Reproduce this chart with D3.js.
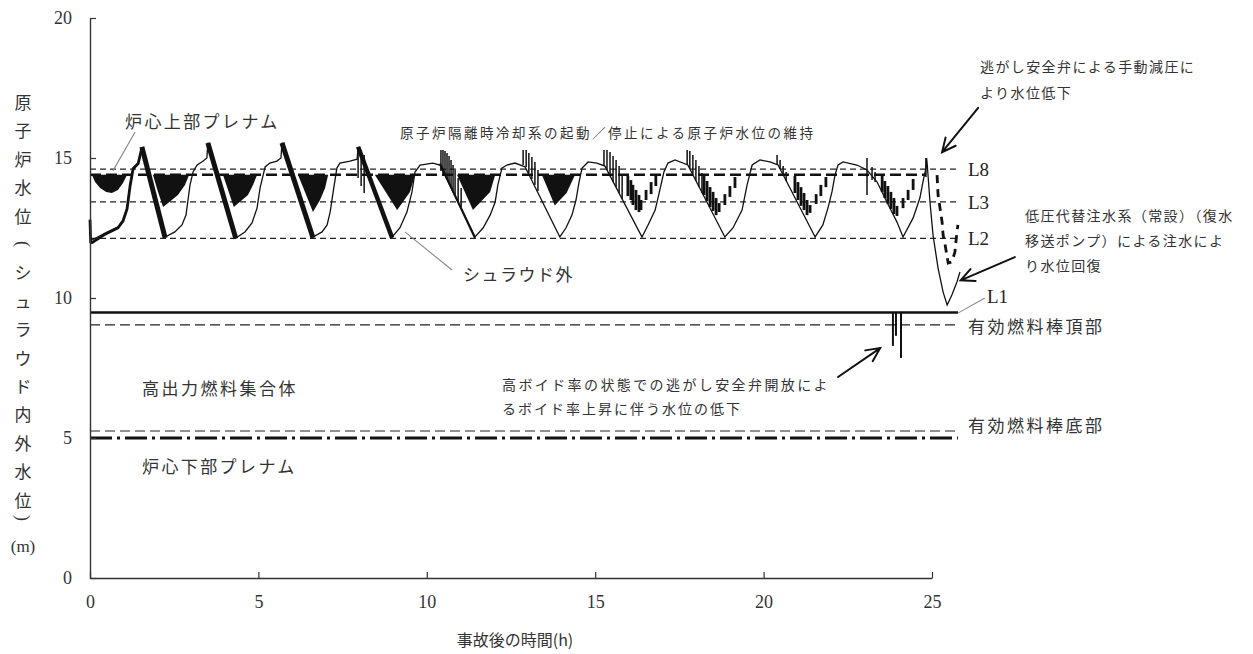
<!DOCTYPE html>
<html><head><meta charset="utf-8">
<script src="https://cdn.jsdelivr.net/npm/d3@7"></script>
<style>body{margin:0;background:#fff}svg{display:block}</style>
</head><body>
<svg id="c" width="1253" height="654"></svg>
<script>
// ---------- data ----------
const xTicks = [0, 5, 10, 15, 20, 25];
const yTicks = [0, 5, 10, 15, 20];
const levelEnd = 25.83;
const refDashedLevels = [14.6, 13.43, 12.13];          // L8, L3, L2
const refLabels = ["L8", "L3", "L2"];
const upperPlenumLevel = 14.4;                          // heavy dashed (in-shroud)
const fuelAssemblyLevel = 9.48;                         // solid
const tafLevel = 9.04, bafLevel = 5.25, lowerPlenumLevel = 5.0;

// outer-shroud water level [h, m]
const shroudOuter = [
 [0.06,12.07],[0.45,12.32],[0.83,12.54],[0.98,12.79],[1.10,13.21],[1.19,14.04],[1.28,14.64],[1.43,14.82],[1.54,15.36],
 [2.23,12.18],
 [2.52,12.36],[2.73,12.61],[2.85,12.96],[2.91,13.5],[2.97,14.04],[3.06,14.5],[3.18,14.75],[3.36,14.89],[3.47,15.0],[3.50,15.54],
 [4.33,12.14],
 [4.60,12.36],[4.81,12.68],[4.96,13.21],[5.05,13.93],[5.20,14.68],[5.34,14.82],[5.55,14.89],[5.67,15.0],[5.70,15.54],
 [6.62,12.18],
 [6.89,12.36],[7.04,12.61],[7.13,13.07],[7.22,13.79],[7.33,14.64],[7.42,14.82],[7.72,14.89],[7.93,14.96],[7.96,15.36],
 [8.97,12.18],
 [9.20,12.5],[9.41,13.07],[9.56,13.79],[9.65,14.5],[9.80,14.75],[10.18,14.82],[10.39,14.75],
 [11.43,12.18],
 [11.67,12.5],[11.88,12.96],[12.03,13.43],[12.11,14.04],[12.23,14.64],[12.38,14.75],[12.62,14.82],[12.86,14.71],[12.92,14.68],
 [13.95,12.18],
 [14.13,12.5],[14.31,12.96],[14.43,13.5],[14.52,14.14],[14.61,14.64],[14.79,14.86],[15.05,14.82],[15.29,14.71],
 [16.39,12.18],
 [16.57,12.61],[16.78,13.14],[16.92,13.86],[17.04,14.5],[17.16,14.82],[17.37,14.93],[17.75,14.75],
 [18.85,12.18],
 [19.09,12.5],[19.36,13.14],[19.51,14.04],[19.66,14.75],[19.89,14.93],[20.19,14.86],[20.43,14.75],
 [21.53,12.18],
 [21.76,12.61],[21.91,13.21],[22.03,13.79],[22.12,14.39],[22.21,14.75],[22.36,14.86],[22.77,14.75],[23.07,14.57],[23.37,14.14],[23.66,13.43],[23.96,12.71],[24.14,12.18],
 [24.44,12.86],[24.64,13.57],[24.73,14.14],[24.82,14.64],[24.84,15.0],[24.86,14.75],
 [24.94,13.43],[25.03,12.25],[25.18,11.07],[25.33,10.21],[25.45,9.75],[25.59,10.11],[25.74,10.57],[25.83,10.93]
];
// start-up portion drawn heavy
const initialRise = [[0.0,12.8],[0.02,12.0],[0.06,11.98],[0.45,12.28],[0.83,12.5],[0.98,12.75],[1.10,13.18],[1.19,14.0],[1.28,14.62],[1.43,14.8],[1.54,15.36]];
// heavy descending bands (cycles 1-5)
const descentBands = [
 [[1.54,15.4],[2.23,12.15]],
 [[3.50,15.54],[4.33,12.12]],
 [[5.70,15.54],[6.62,12.15]],
 [[7.96,15.4],[8.97,12.15]],
 [[10.39,14.8],[11.43,12.15]]
];
const bandWidths = [5, 5, 5, 4.5, 2.2];
// in-shroud level oscillation envelopes (lower edge; top = upperPlenumLevel)
const innerFill = [
 [[0.06,14.39],[0.15,14.14],[0.30,13.93],[0.48,13.79],[0.65,13.75],[0.83,13.86],[0.98,14.11],[1.10,14.39]],
 [[1.87,14.39],[2.02,13.79],[2.17,13.25],[2.32,13.39],[2.61,13.68],[2.82,14.04],[2.94,14.39]],
 [[3.95,14.39],[4.27,13.25],[4.69,13.68],[4.84,14.04],[4.96,14.39]],
 [[6.18,14.39],[6.62,13.07],[6.83,13.5],[6.98,13.93],[7.07,14.39]],
 [[8.46,14.39],[9.12,13.14],[9.50,13.79],[9.65,14.39]],
 [[10.90,14.39],[11.37,13.14],[11.88,13.79],[12.03,14.39]],
 [[13.42,14.39],[13.80,13.3],[14.15,13.75],[14.40,14.39]]
];
// sparse in-shroud level spikes [h, m low, m high]
const innerDashes = [
 [15.97,13.64,14.36],[16.06,13.5,14.21],[16.12,13.32,14.04],[16.21,13.14,13.86],[16.30,13.07,13.68],[16.36,13.14,13.5],[16.51,13.5,13.86],[16.66,13.71,14.14],[16.80,14.0,14.36],
 [18.23,13.68,14.36],[18.32,13.46,14.18],[18.41,13.25,13.96],[18.50,13.11,13.79],[18.59,12.96,13.57],[18.68,13.07,13.39],[18.85,13.32,13.71],[19.00,13.61,14.0],[19.15,13.93,14.32],
 [20.93,13.75,14.36],[21.02,13.5,14.14],[21.11,13.29,13.96],[21.20,13.14,13.75],[21.29,12.96,13.5],[21.38,13.04,13.32],[21.56,13.36,13.71],[21.70,13.64,14.04],[21.85,13.96,14.32],
 [23.52,13.79,14.36],[23.60,13.57,14.18],[23.69,13.36,14.0],[23.78,13.18,13.79],[23.87,13.0,13.57],[23.96,12.93,13.29],[24.14,13.21,13.57],[24.29,13.5,13.86],[24.44,13.86,14.25]
];
// level-swell spikes along descents (RCIC start/stop) [h, m low, m high]
const combs = [
 [7.96,14.29,15.29],[8.05,14.0,15.29],[8.14,13.75,15.11],
 [10.42,14.54,15.29],[10.48,14.39,15.29],[10.54,14.39,15.25],[10.60,14.25,15.18],[10.66,14.11,15.07],[10.72,13.96,14.93],[10.78,13.82,14.75],[10.84,13.68,14.57],[10.93,13.46,14.29],[11.02,13.25,13.93],
 [12.86,14.75,15.29],[12.95,14.68,15.29],[13.03,14.46,15.18],[13.12,14.25,15.04],[13.21,14.04,14.86],[13.30,13.82,14.57],
 [15.26,14.71,15.29],[15.35,14.57,15.29],[15.44,14.36,15.21],[15.53,14.14,15.07],[15.62,13.96,14.93],[15.71,13.75,14.71],[15.80,13.54,14.43],
 [17.73,14.75,15.29],[17.81,14.61,15.25],[17.90,14.39,15.11],[17.99,14.18,14.93],[18.08,13.96,14.71],[18.17,13.75,14.46],
 [20.40,14.75,15.11],[20.49,14.61,14.93],[20.58,14.39,14.71],[20.67,14.18,14.5],
 [23.07,13.68,15.0],[23.22,14.21,14.68],[23.31,14.14,14.5],
 [24.82,14.32,15.0]
];
// in-shroud level after manual depressurisation (heavy dashed)
const innerAfterDepress = [[25.15,14.39],[25.18,13.68],[25.30,12.71],[25.33,12.25],[25.39,11.89],[25.48,11.25],[25.59,11.29],[25.68,11.64],[25.74,12.36],[25.77,12.61]];
// high-power fuel assembly level dips [h, m bottom]
const fuelDips = [[23.84,8.29],[23.93,8.65],[24.08,7.86]];

// ---------- setup ----------
const svg = d3.select("#c");
const x = d3.scaleLinear().domain([0, 25]).range([90, 932]);
const y = d3.scaleLinear().domain([0, 20]).range([578, 18]);
const JP = "'Noto Sans CJK JP','Noto Sans CJK SC',sans-serif";
const SERIF = "'Liberation Serif','DejaVu Serif',serif";
const ink = "#111";
const line = d3.line().x(d => x(d[0])).y(d => y(d[1]));

// ---------- reference levels ----------
refDashedLevels.forEach((v, i) => {
  svg.append("line").attr("x1", x(0)).attr("x2", x(levelEnd)).attr("y1", y(v)).attr("y2", y(v))
    .attr("stroke", "#222").attr("stroke-width", 1.2).attr("stroke-dasharray", "6,4");
  svg.append("text").attr("x", x(levelEnd) + 8).attr("y", y(v) + 7).text(refLabels[i])
    .attr("font-family", SERIF).attr("font-size", 19).attr("fill", "#222");
});
svg.append("line").attr("x1", x(0)).attr("x2", x(24.82)).attr("y1", y(upperPlenumLevel)).attr("y2", y(upperPlenumLevel))
  .attr("stroke", ink).attr("stroke-width", 2.6).attr("stroke-dasharray", "11,5");
svg.append("line").attr("x1", x(0)).attr("x2", x(25.77)).attr("y1", y(tafLevel)).attr("y2", y(tafLevel))
  .attr("stroke", "#222").attr("stroke-width", 1.2).attr("stroke-dasharray", "10,5");
svg.append("line").attr("x1", x(0)).attr("x2", x(25.77)).attr("y1", y(bafLevel)).attr("y2", y(bafLevel))
  .attr("stroke", "#222").attr("stroke-width", 1.2).attr("stroke-dasharray", "10,5");
svg.append("line").attr("x1", x(0)).attr("x2", x(25.77)).attr("y1", y(lowerPlenumLevel)).attr("y2", y(lowerPlenumLevel))
  .attr("stroke", ink).attr("stroke-width", 3).attr("stroke-dasharray", "22,5,3,5");
svg.append("line").attr("x1", x(0)).attr("x2", x(25.77)).attr("y1", y(fuelAssemblyLevel)).attr("y2", y(fuelAssemblyLevel))
  .attr("stroke", ink).attr("stroke-width", 2.6);
svg.selectAll(".dip").data(fuelDips).join("line")
  .attr("x1", d => x(d[0])).attr("x2", d => x(d[0])).attr("y1", y(fuelAssemblyLevel)).attr("y2", d => y(d[1]))
  .attr("stroke", ink).attr("stroke-width", 2);

// ---------- in-shroud oscillation ----------
const area = d3.area().x(d => x(d[0])).y0(y(upperPlenumLevel)).y1(d => y(d[1]));
svg.selectAll(".inner").data(innerFill).join("path").attr("d", area).attr("fill", ink);
svg.selectAll(".idash").data(innerDashes).join("line")
  .attr("x1", d => x(d[0])).attr("x2", d => x(d[0])).attr("y1", d => y(d[1])).attr("y2", d => y(d[2]))
  .attr("stroke", ink).attr("stroke-width", 2.8);
svg.append("path").attr("d", line(innerAfterDepress)).attr("fill", "none")
  .attr("stroke", ink).attr("stroke-width", 2.8).attr("stroke-dasharray", "8,6");

// ---------- outer level ----------
svg.append("path").attr("d", line(shroudOuter)).attr("fill", "none").attr("stroke", ink).attr("stroke-width", 1.3);
svg.append("path").attr("d", line(initialRise)).attr("fill", "none").attr("stroke", ink).attr("stroke-width", 2.8);
descentBands.forEach((b, i) => {
  svg.append("path").attr("d", line(b)).attr("fill", "none").attr("stroke", ink).attr("stroke-width", bandWidths[i]);
});
svg.selectAll(".comb").data(combs).join("line")
  .attr("x1", d => x(d[0])).attr("x2", d => x(d[0])).attr("y1", d => y(d[1])).attr("y2", d => y(d[2]))
  .attr("stroke", ink).attr("stroke-width", 1.5);

// ---------- axes ----------
const gy = svg.append("g").attr("transform", `translate(${x(0)},0)`)
  .call(d3.axisLeft(y).tickValues(yTicks).tickSizeInner(-6).tickSizeOuter(0).tickPadding(18));
const gx = svg.append("g").attr("transform", `translate(0,${y(0)})`)
  .call(d3.axisBottom(x).tickValues(xTicks).tickSizeInner(-6).tickSizeOuter(0).tickPadding(17));
[gy, gx].forEach(g => {
  g.select(".domain").attr("stroke", "#333").attr("stroke-width", 1.4);
  g.selectAll(".tick line").attr("stroke", "#333").attr("stroke-width", 1.2);
  g.selectAll(".tick text").attr("font-family", SERIF).attr("font-size", 18).attr("fill", "#333");
});

// ---------- axis titles ----------
const yTitle = ["原","子","炉","水","位","","シ","ュ","ラ","ウ","ド","内","外","水","位"];
svg.selectAll(".yt").data(yTitle).join("text")
  .attr("x", 23).attr("y", (d, i) => 109 + i * 28.4).attr("text-anchor", "middle")
  .attr("font-family", JP).attr("font-size", 17).attr("fill", "#333").text(d => d);
// vertical parentheses drawn as rotated brackets
[["(", 244], [")", 518]].forEach(p => {
  svg.append("text").attr("x", 0).attr("y", 0).attr("text-anchor", "middle").attr("dominant-baseline", "central")
    .attr("transform", `translate(23,${p[1]}) rotate(90)`)
    .attr("font-family", SERIF).attr("font-size", 18).attr("fill", "#333").text(p[0]);
});
svg.append("text").attr("x", 23).attr("y", 552).attr("text-anchor", "middle")
  .attr("font-family", SERIF).attr("font-size", 17).attr("fill", "#333").text("(m)");
svg.append("text").attr("x", 515).attr("y", 646).attr("text-anchor", "middle")
  .attr("font-family", JP).attr("font-size", 16).attr("fill", "#333").text("事故後の時間(h)");

// ---------- annotations ----------
const notes = [
 ["炉心上部プレナム", 125, 128, 17, 2.4],
 ["原子炉隔離時冷却系の起動／停止による原子炉水位の維持", 400, 138, 13.5, 2.5],
 ["シュラウド外", 463, 281, 17, 1.5],
 ["逃がし安全弁による手動減圧に", 980, 72, 14, 1.4],
 ["より水位低下", 980, 98, 14, 1.4],
 ["低圧代替注水系（常設）（復水", 1025, 221, 14, 1.4],
 ["移送ポンプ）による注水によ", 1025, 246, 14, 1.4],
 ["り水位回復", 1025, 271, 14, 1.4],
 ["高ボイド率の状態での逃がし安全弁開放によ", 502, 390, 14, 2.4],
 ["るボイド率上昇に伴う水位の低下", 502, 414, 14, 2.0],
 ["高出力燃料集合体", 142, 395, 17, 2.5],
 ["炉心下部プレナム", 142, 473, 17, 2.4],
 ["有効燃料棒頂部", 968, 333, 17, 2.5],
 ["有効燃料棒底部", 968, 432, 17, 2.5]
];
svg.selectAll(".note").data(notes).join("text")
  .attr("x", d => d[1]).attr("y", d => d[2]).attr("font-size", d => d[3]).attr("letter-spacing", d => d[4])
  .attr("font-family", JP).attr("fill", "#333").text(d => d[0]);
svg.append("text").attr("x", x(levelEnd) + 27).attr("y", 303).text("L1")
  .attr("font-family", SERIF).attr("font-size", 19).attr("fill", "#222");

// leader lines (data units)
const leaders = [
 [[1.34,15.93],[0.68,14.54]],
 [[9.35,12.36],[10.75,11.0]],
 [[25.77,9.46],[26.57,10.0]]
];
leaders.forEach(l => svg.append("path").attr("d", line(l)).attr("stroke", "#888").attr("stroke-width", 1.1).attr("fill", "none"));

// arrows (data units, from -> to)
const arrows = [
 [[26.37,16.79],[25.30,15.21]],
 [[27.46,11.46],[25.85,10.63]],
 [[22.21,7.18],[23.46,8.21]]
];
arrows.forEach(a => {
  const x1 = x(a[0][0]), y1 = y(a[0][1]), x2 = x(a[1][0]), y2 = y(a[1][1]);
  const ang = Math.atan2(y2 - y1, x2 - x1), L = 15, w = 0.45;
  const p1 = [x2 - L * Math.cos(ang - w), y2 - L * Math.sin(ang - w)];
  const p2 = [x2 - L * Math.cos(ang + w), y2 - L * Math.sin(ang + w)];
  svg.append("path").attr("d", `M${x1},${y1}L${x2},${y2}M${p1}L${x2},${y2}L${p2}`)
    .attr("stroke", ink).attr("stroke-width", 2).attr("fill", "none").attr("stroke-linecap", "round");
});
</script>
</body></html>
